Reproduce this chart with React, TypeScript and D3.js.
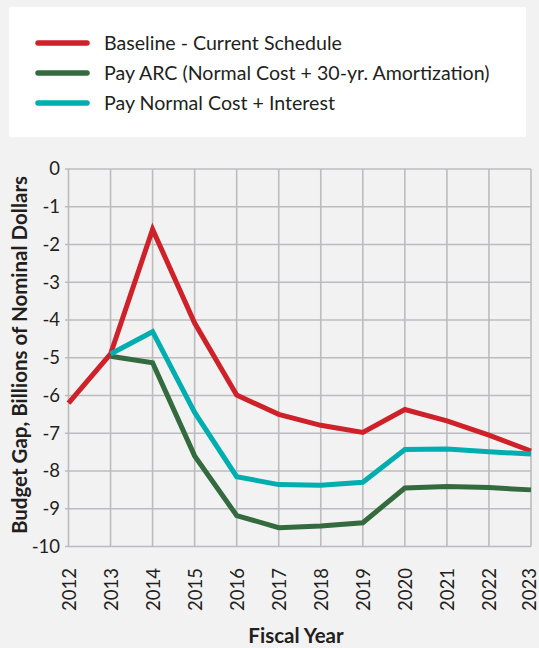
import React from "react";
import * as d3 from "d3";

const years = [2012, 2013, 2014, 2015, 2016, 2017, 2018, 2019, 2020, 2021, 2022, 2023];
const baseline = [-6.2, -4.9, -1.6, -4.08, -5.99, -6.5, -6.79, -6.98, -6.37, -6.67, -7.05, -7.47];
const payArc = [null, -4.96, -5.13, -7.6, -9.18, -9.5, -9.46, -9.37, -8.45, -8.41, -8.44, -8.5];
const payNormal = [null, -4.9, -4.31, -6.45, -8.15, -8.36, -8.38, -8.3, -7.43, -7.42, -7.49, -7.55];
const yTicks = [0, -1, -2, -3, -4, -5, -6, -7, -8, -9, -10];

const seriesNames = ["Baseline - Current Schedule", "Pay ARC (Normal Cost + 30-yr. Amortization)", "Pay Normal Cost + Interest"];
const seriesColors = ["#cf2129", "#336b3f", "#00aeb0"];
const seriesData = [baseline, payArc, payNormal];

export default function App() {
  const W = 539, H = 648;
  const x = d3.scaleLinear().domain([2012, 2023]).range([68.5, 531]);
  const y = d3.scaleLinear().domain([0, -10]).range([169, 546.5]);
  const line = d3
    .line<[number, number | null]>()
    .defined((d) => d[1] !== null)
    .x((d) => x(d[0]))
    .y((d) => y(d[1] as number));
  const font = "Lato, 'Open Sans', sans-serif";
  return (
    <svg width={W} height={H} style={{ position: "absolute", left: 0, top: 0, background: "#f2f2f2" }} fontFamily={font}>
      <rect x={0} y={0} width={W} height={H} fill="#f2f2f2" />
      <rect x={9} y={7} width={517} height={130} fill="#ffffff" />
      {seriesNames.map((n, i) => (
        <g key={n}>
          <line x1={38} x2={87} y1={43 + i * 30} y2={43 + i * 30} stroke={seriesColors[i]} strokeWidth={5.5} strokeLinecap="round" />
          <text x={104} y={43 + i * 30} dy="0.35em" fontSize={19.6} fill="#231f20">{n}</text>
        </g>
      ))}
      {yTicks.map((t) => (
        <g key={t}>
          <line x1={65} x2={531} y1={y(t)} y2={y(t)} stroke="#bcbcc0" strokeWidth={1.6} />
          <text x={60} y={y(t)} dy="0.35em" textAnchor="end" fontSize={18.5} fill="#231f20">{t}</text>
        </g>
      ))}
      {years.map((yr) => (
        <g key={yr}>
          <line x1={x(yr)} x2={x(yr)} y1={y(0)} y2={y(-10)} stroke="#bcbcc0" strokeWidth={1.6} />
          <text transform={`translate(${Math.min(x(yr) + 1, 530)},${568}) rotate(-90)`} dy="0.35em" textAnchor="end" fontSize={18.5} fill="#231f20">{yr}</text>
        </g>
      ))}
      {seriesData.map((s, i) => (
        <path
          key={i}
          d={line(years.map((yr, j) => [yr, s[j]]) as [number, number | null][]) || ""}
          fill="none"
          stroke={seriesColors[i]}
          strokeWidth={5}
          strokeLinejoin="miter"
        />
      ))}
      <text transform={`translate(27,355) rotate(-90)`} textAnchor="middle" fontSize={20.5} fontWeight="bold" fill="#231f20">
        Budget Gap, Billions of Nominal Dollars
      </text>
      <text x={296} y={643} textAnchor="middle" fontSize={20.5} fontWeight="bold" fill="#231f20">Fiscal Year</text>
    </svg>
  );
}
